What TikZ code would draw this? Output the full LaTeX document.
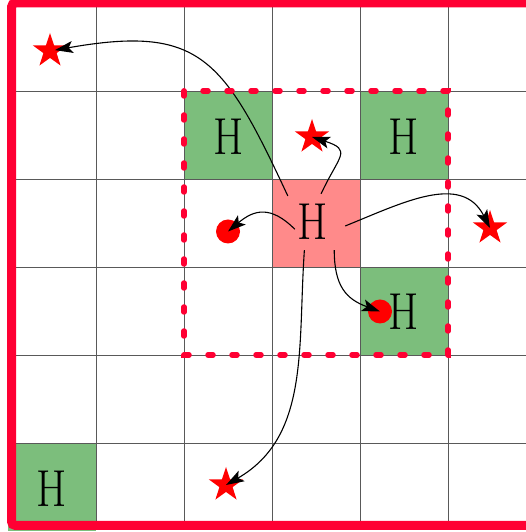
\documentclass[tikz,border=0pt]{standalone}
\usepackage{graphicx}
\usetikzlibrary{shapes.geometric,arrows.meta}
\definecolor{bordred}{RGB}{255,0,51}
\definecolor{cellgreen}{RGB}{124,190,124}
\definecolor{cellred}{RGB}{255,138,138}
\begin{document}
\begin{tikzpicture}[x=1pt,y=1pt,
  gridline/.style={draw=black!65,line width=0.9pt},
  hlabel/.style={font=\fontsize{52}{52}\selectfont,inner sep=0pt},
  hcentre/.style={hlabel,minimum width=50pt,minimum height=56pt},
  starmark/.style={star,star points=5,star point ratio=2.6,fill=red,minimum size=36pt,inner sep=0pt},
  dotmark/.style={circle,fill=red,minimum size=24pt,inner sep=0pt},
  link/.style={-{Stealth[length=18pt,width=12pt,inset=4pt]},line width=1.1pt,black},
  zone/.style={draw=bordred,line width=5.5pt,line cap=round,dash pattern=on 5pt off 19pt},
  frame/.style={draw=bordred,line width=9pt,rounded corners=4pt}]
\clip (0,0) rectangle (526,532);
\fill[white] (0,0) rectangle (526,532);
% cells
\fill[cellgreen] (184,353) rectangle (272,441);
\fill[cellgreen] (360,353) rectangle (448,441);
\fill[cellgreen] (360,177) rectangle (448,265);
\fill[cellgreen] (8,1) rectangle (96,89);
\fill[cellred] (272,265) rectangle (360,353);
% grid
\foreach \x in {96,184,272,360,448,536} \draw[gridline] (\x,6) -- (\x,545);
\foreach \y in {89,177,265,353,441,529} \draw[gridline] (8,\y) -- (545,\y);
% marks
\node[starmark] (s1) at (50,481) {};
\node[starmark] (s2) at (312,395) {};
\node[starmark] (s3) at (490,304) {};
\node[starmark] (s4) at (226,47) {};
\node[dotmark] (c1) at (228,300.5) {};
\node[dotmark] (c2) at (380,220.5) {};
% H labels
\node[hlabel] (g1) at (229,395) {\scalebox{0.84}[1]{H}};
\node[hlabel] (g2) at (404,395) {\scalebox{0.84}[1]{H}};
\node[hlabel] (g3) at (404,220) {\scalebox{0.84}[1]{H}};
\node[hlabel] (g4) at (52,43) {\scalebox{0.84}[1]{H}};
\node[hcentre] (hc) at (313,310) {\scalebox{0.84}[1]{H}};
% arrows
\draw[link,shorten >=5pt] (hc.134) to[out=115,in=10,looseness=1.4] (s1.center);
\draw[link] (hc.74) to[out=65,in=-18,looseness=1.9] (s2.center);
\draw[link] ([xshift=7pt]hc.196) to[out=135,in=40,looseness=1.3] (c1.center);
\draw[link] ([xshift=7pt]hc.-9) to[out=22,in=117,looseness=1.1] (s3.center);
\draw[link] (hc.-53) to[out=-90,in=160,looseness=1.2] (c2.center);
\draw[link] (hc.-107) to[out=-94,in=30] (s4.center);
% zone and frame
\draw[zone] (184,441) rectangle (448,177);
\draw[frame] (11.5,529) rectangle (560,6.5);
\end{tikzpicture}
\end{document}
